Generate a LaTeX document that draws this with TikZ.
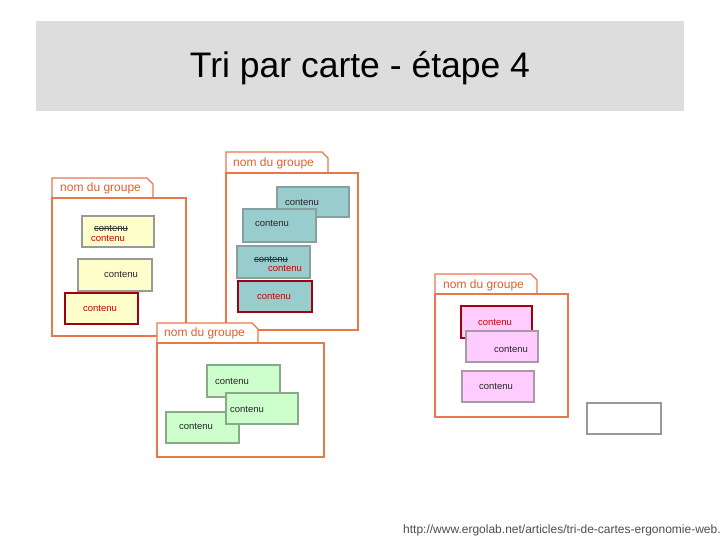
\documentclass[tikz,border=0pt]{standalone}
\usepackage{fontspec}
\setmainfont{Liberation Sans}
\definecolor{bandeau}{HTML}{DDDDDD}
\definecolor{orangeg}{HTML}{E8784A}
\definecolor{orangetxt}{HTML}{E0602E}
\definecolor{jaune}{HTML}{FFFFCC}
\definecolor{turquoise}{HTML}{99CCCC}
\definecolor{vert}{HTML}{CCFFCC}
\definecolor{rose}{HTML}{FFCCFF}
\definecolor{grisbord}{HTML}{999999}
\definecolor{bordturq}{HTML}{889F9F}
\definecolor{bordvert}{HTML}{88AA88}
\definecolor{bordrose}{HTML}{A898A8}
\definecolor{rougefonce}{HTML}{A00010}
\definecolor{rougetxt}{HTML}{CC0000}

\begin{document}
\begin{tikzpicture}[x=1pt,y=-1pt,
    groupe/.style={draw=orangeg,line width=1.3pt,fill=white},
    onglet/.style={text=orangetxt,font=\fontsize{12}{12}\selectfont,inner sep=0pt,anchor=west},
    carte/.style={line width=1.3pt},
    choisi/.style={draw=rougefonce,line width=1.8pt},
    txt/.style={font=\fontsize{9.5}{10}\selectfont,inner sep=0pt,text=black!85},
    rouge/.style={txt,text=rougetxt}]
    \useasboundingbox (0,0) rectangle (720,540);
    % titre
    \fill[bandeau] (36,21) rectangle (684,111);
    \node[font=\fontsize{35.5}{36}\selectfont,anchor=base] (titre) at (360,78) {Tri par carte - étape 4};
    % groupe jaune
    \draw[groupe] (52,198)--(52,178)--(147,178)--(153,184)--(153,198);
    \draw[groupe] (52,198) rectangle (186,336);
    \node[onglet] (g1) at (60,188) {nom du groupe};
    \draw[carte,draw=grisbord,fill=jaune] (82,216) rectangle (154,247);
    \node[txt] (a1) at (111,228) {contenu};
    \draw[black!80] (a1.west)--(a1.east);
    \node[rouge] (a2) at (108,238) {contenu};
    \draw[carte,draw=grisbord,fill=jaune] (78,259) rectangle (152,291);
    \node[txt] (b) at (121,274) {contenu};
    \draw[carte,choisi,fill=jaune] (65,293) rectangle (138,324);
    \node[rouge] (c) at (100,308) {contenu};
    % groupe turquoise
    \draw[groupe] (226,173)--(226,152)--(322,152)--(328,158)--(328,173);
    \draw[groupe] (226,173) rectangle (358,330);
    \node[onglet] (g2) at (233,163) {nom du groupe};
    \draw[carte,draw=bordturq,fill=turquoise] (277,187) rectangle (349,217);
    \node[txt] (d) at (302,202) {contenu};
    \draw[carte,draw=bordturq,fill=turquoise] (243,209) rectangle (316,242);
    \node[txt] (e) at (272,223) {contenu};
    \draw[carte,draw=bordturq,fill=turquoise] (237,246) rectangle (310,278);
    \node[txt] (f1) at (271,259) {contenu};
    \draw[black!80] (f1.west)--(f1.east);
    \node[rouge] (f2) at (285,268) {contenu};
    \draw[carte,choisi,fill=turquoise] (238,281) rectangle (312,312);
    \node[rouge] (g) at (274,296) {contenu};
    % groupe vert
    \draw[groupe] (157,343)--(157,323)--(252,323)--(258,329)--(258,343);
    \draw[groupe] (157,343) rectangle (324,457);
    \node[onglet] (g3) at (164,333) {nom du groupe};
    \draw[carte,draw=bordvert,fill=vert] (207,365) rectangle (280,397);
    \node[txt] (h) at (232,381) {contenu};
    \draw[carte,draw=bordvert,fill=vert] (166,412) rectangle (239,443);
    \node[txt] (j) at (196,426) {contenu};
    \draw[carte,draw=bordvert,fill=vert] (226,393) rectangle (298,424);
    \node[txt] (i) at (247,409) {contenu};
    % groupe rose
    \draw[groupe] (435,294)--(435,274)--(531,274)--(537,280)--(537,294);
    \draw[groupe] (435,294) rectangle (568,417);
    \node[onglet] (g4) at (443,285) {nom du groupe};
    \draw[carte,choisi,fill=rose] (461,306) rectangle (532,338);
    \node[rouge] (k) at (495,322) {contenu};
    \draw[carte,draw=bordrose,fill=rose] (466,331) rectangle (538,362);
    \node[txt] (l) at (511,349) {contenu};
    \draw[carte,draw=bordrose,fill=rose] (462,371) rectangle (534,402);
    \node[txt] (m) at (496,386) {contenu};
    % carte vide
    \draw[carte,draw=grisbord,line width=1.8pt,fill=white] (587,403) rectangle (661,434);
    % source
    \node[font=\fontsize{12}{12}\selectfont,text=black!70,anchor=base west,inner sep=0pt] (url) at (403,533) {http://www.ergolab.net/articles/tri-de-cartes-ergonomie-web.};
\end{tikzpicture}
\end{document}
